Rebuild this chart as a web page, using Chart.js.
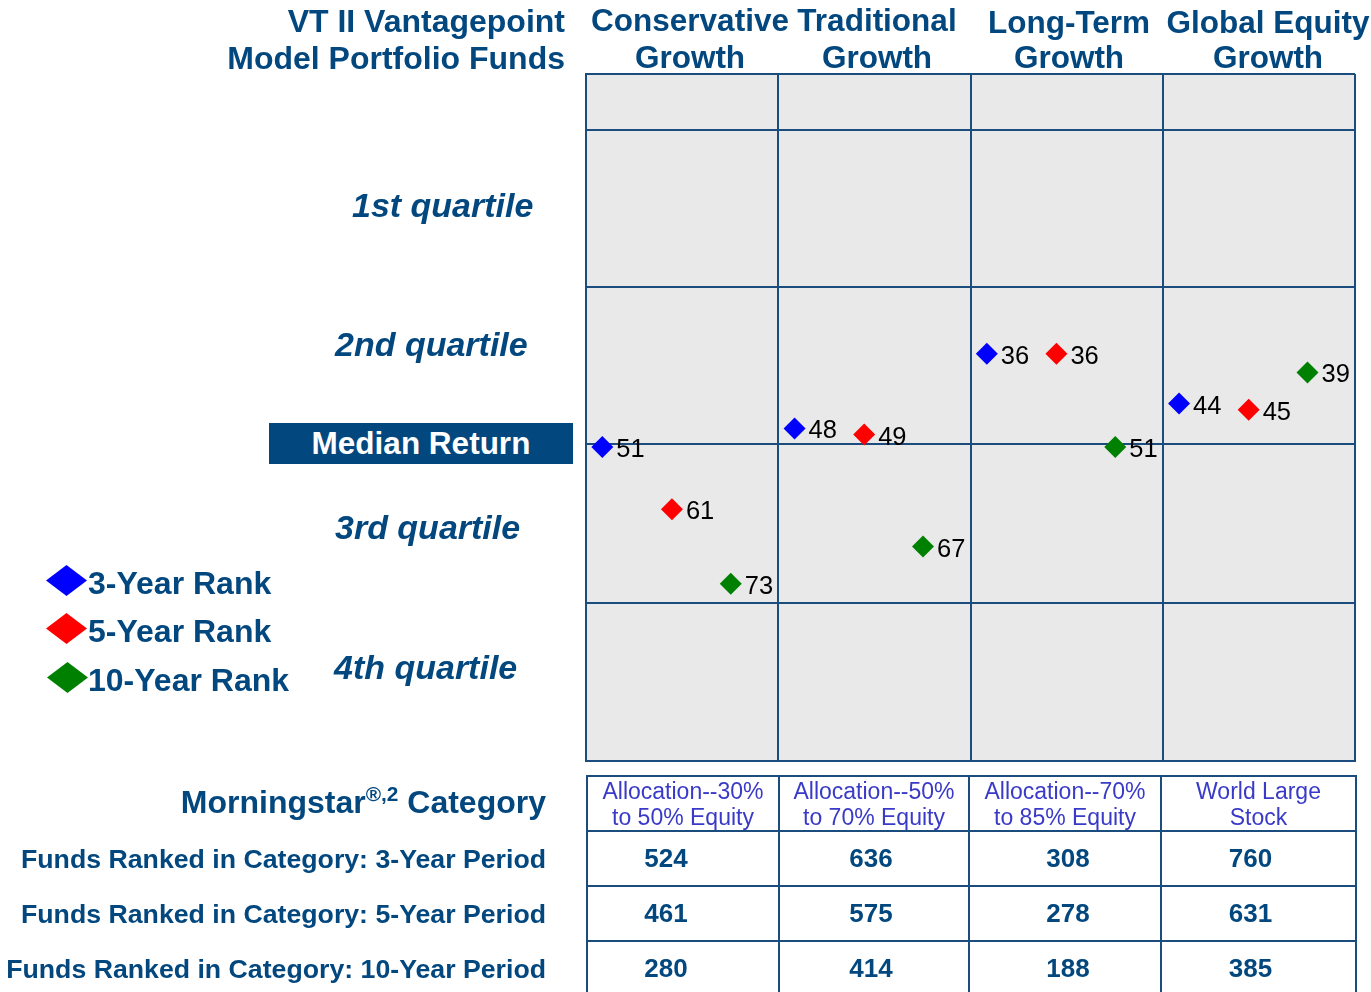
<!DOCTYPE html>
<html>
<head>
<meta charset="utf-8">
<script src="https://cdn.jsdelivr.net/npm/chart.js@4"></script>
<style>
  body { margin: 0; background: #fff; font-family: 'Liberation Sans', Arial, sans-serif; }
  #wrap { position: relative; width: 1371px; height: 992px; overflow: hidden; }
  #rankChart { position: absolute; left: 0; top: 0; }
  .lbl { position: absolute; white-space: nowrap; line-height: 1; color: #03477f; font-weight: bold; transform: translateY(-50%); }
  .dia { position: absolute; clip-path: polygon(50% 0, 100% 50%, 50% 100%, 0 50%); }
  #median { position: absolute; left: 269px; top: 423px; width: 304px; height: 41px; background: #03477f;
            color: #fff; font-weight: bold; font-size: 31.5px; line-height: 41px; text-align: center; }
  #tbl { position: absolute; left: 586px; top: 775px; border-collapse: collapse; table-layout: fixed; }
  #tbl td { border: 2px solid #1a4d7e; text-align: center; padding: 0; }
  #tbl td.cat { color: #3a3ac8; font-size: 23px; line-height: 26px; height: 53px; }
  #tbl td.num { color: #03477f; font-size: 26px; font-weight: bold; height: 53px; }
  #tbl td span { position: relative; }
</style>
</head>
<body>
<div id="wrap">
  <canvas id="rankChart" width="1371" height="992"></canvas>
  <div id="median">Median Return</div>
  <table id="tbl"></table>
</div>
<script>
// ---- data ----
const fundNames = [['Conservative', 'Growth'], ['Traditional', 'Growth'], ['Long-Term', 'Growth'], ['Global Equity', 'Growth']];
const rank3 = [51, 48, 36, 44];
const rank5 = [61, 49, 36, 45];
const rank10 = [73, 67, 51, 39];
const seriesNames = ['3-Year Rank', '5-Year Rank', '10-Year Rank'];
const quartileNames = ['1st quartile', '2nd quartile', '3rd quartile', '4th quartile'];
const categories = [['Allocation--30%', 'to 50% Equity'], ['Allocation--50%', 'to 70% Equity'], ['Allocation--70%', 'to 85% Equity'], ['World Large', 'Stock']];
const count3 = [524, 636, 308, 760];
const count5 = [461, 575, 278, 631];
const count10 = [280, 414, 188, 385];
const rowNames = ['Funds Ranked in Category: 3-Year Period', 'Funds Ranked in Category: 5-Year Period', 'Funds Ranked in Category: 10-Year Period'];

const gridColor = '#1a4d7e';
const colors = { blue: '#0000ff', red: '#ff0000', green: '#008000' };

const wrap = document.getElementById('wrap');
function put(text, x, y, size, opts) {
  opts = opts || {};
  const d = document.createElement('div');
  d.className = 'lbl';
  d.innerHTML = text;
  d.style.fontSize = size + 'px';
  d.style.top = y + 'px';
  if (opts.italic) d.style.fontStyle = 'italic';
  if (opts.align === 'right') { d.style.right = (1371 - x) + 'px'; }
  else if (opts.align === 'center') { d.style.left = x + 'px'; d.style.transform = 'translate(-50%,-50%)'; }
  else { d.style.left = x + 'px'; }
  wrap.appendChild(d);
}

// titles
put('VT II Vantagepoint', 565, 21, 32, { align: 'right' });
put('Model Portfolio Funds', 565, 58, 32, { align: 'right' });
const headerX = [690, 877, 1069, 1268];
const headerY1 = [21, 21, 23, 23];
fundNames.forEach((n, i) => {
  put(n[0], headerX[i], headerY1[i], 31.5, { align: 'center' });
  put(n[1], headerX[i], 58, 31.5, { align: 'center' });
});

// quartile labels
const qX = [352, 335, 335, 334];
const qY = [205, 344, 527, 667];
quartileNames.forEach((q, i) => put(q, qX[i], qY[i], 34, { italic: true }));

// legend
const legColors = [colors.blue, colors.red, colors.green];
const legY = [580, 628, 677];
seriesNames.forEach((s, i) => {
  const d = document.createElement('div');
  d.className = 'dia';
  d.style.background = legColors[i];
  d.style.left = (i === 2 ? 47 : 46) + 'px';
  d.style.top = (legY[i] - 15) + 'px';
  d.style.width = '41px';
  d.style.height = '31px';
  wrap.appendChild(d);
  put(s, 88, legY[i] + 3, 32);
});

// table row labels
put('Morningstar<sup style="font-size:65%;vertical-align:top;position:relative;top:-2px">®,2</sup> Category', 546, 802, 32, { align: 'right' });
rowNames.forEach((r, i) => put(r, 546, 859 + i * 55, 26.7, { align: 'right' }));

// table
const tbl = document.getElementById('tbl');
const colW = [192, 190, 192, 195];
const numShift = [-17, -3, 3, -8];
let html = '<colgroup>' + colW.map(w => `<col style="width:${w}px">`).join('') + '</colgroup>';
html += '<tr>' + categories.map(c => `<td class="cat">${c[0]}<br>${c[1]}</td>`).join('') + '</tr>';
[count3, count5, count10].forEach(row => {
  html += '<tr>' + row.map((v, i) => `<td class="num"><span style="left:${numShift[i]}px">${v}</span></td>`).join('') + '</tr>';
});
tbl.innerHTML = html;

// ---- chart ----
const xOffsets = [0.085, 0.447, 0.753];
function pts(vals, off) { return vals.map((v, i) => ({ x: i + off, y: v })); }

const quartileLines = [0, 25.24, 50.48, 76.05];

const bgPlugin = {
  id: 'bg',
  beforeDraw(chart) {
    const a = chart.chartArea, ctx = chart.ctx;
    ctx.save();
    ctx.fillStyle = '#e9e9e9';
    ctx.fillRect(a.left, a.top, a.right - a.left, a.bottom - a.top);
    ctx.restore();
  }
};

const valueLabels = {
  id: 'valueLabels',
  afterDatasetsDraw(chart) {
    const ctx = chart.ctx;
    ctx.save();
    ctx.font = "25.5px 'Liberation Sans', Arial, sans-serif";
    ctx.fillStyle = '#000';
    ctx.textBaseline = 'middle';
    chart.data.datasets.forEach((ds, di) => {
      chart.getDatasetMeta(di).data.forEach((el, i) => {
        ctx.fillText(ds.data[i].y, el.x + 14, el.y + 3);
      });
    });
    ctx.restore();
  }
};

new Chart(document.getElementById('rankChart'), {
  type: 'scatter',
  data: {
    datasets: [
      { label: seriesNames[0], data: pts(rank3, xOffsets[0]), backgroundColor: colors.blue },
      { label: seriesNames[1], data: pts(rank5, xOffsets[1]), backgroundColor: colors.red },
      { label: seriesNames[2], data: pts(rank10, xOffsets[2]), backgroundColor: colors.green }
    ]
  },
  options: {
    responsive: false,
    animation: false,
    events: [],
    layout: { padding: { left: 586, top: 74, right: 16, bottom: 231 } },
    elements: { point: { pointStyle: 'rectRot', radius: 11, hoverRadius: 11, borderWidth: 0 } },
    plugins: { legend: { display: false }, tooltip: { enabled: false } },
    scales: {
      x: {
        type: 'linear', min: 0, max: 4,
        ticks: { display: false },
        grid: { color: gridColor, lineWidth: 2, drawTicks: false },
        border: { color: gridColor, width: 2 },
        afterBuildTicks: s => { s.ticks = [0, 1, 2, 3, 4].map(v => ({ value: v })); }
      },
      y: {
        type: 'linear', min: -9, max: 101.5, reverse: true,
        ticks: { display: false },
        grid: { color: gridColor, lineWidth: 2, drawTicks: false },
        border: { color: gridColor, width: 2 },
        afterBuildTicks: s => { s.ticks = [-9].concat(quartileLines, [101.5]).map(v => ({ value: v })); }
      }
    }
  },
  plugins: [bgPlugin, valueLabels]
});
</script>
</body>
</html>
